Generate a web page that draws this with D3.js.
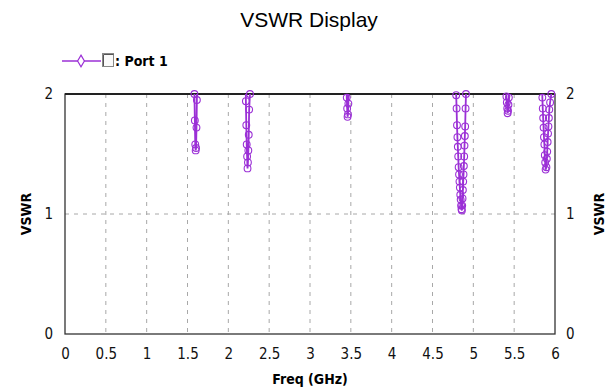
<!DOCTYPE html>
<html>
<head>
<meta charset="utf-8">
<script src="https://cdn.jsdelivr.net/npm/d3@7"></script>
<style>
  body { margin: 0; background: #fff; }
  text { font-family: "DejaVu Sans", sans-serif; font-stretch: condensed; }
</style>
</head>
<body>
<div id="chart"></div>
<script>
// Freq sweep (GHz) and VSWR; values of 2.5 sit above the plot and get clipped
const freqGHz = [
  1.58, 1.585, 1.59, 1.595, 1.60, 1.605, 1.61, 1.615, 1.62,
  2.21, 2.215, 2.22, 2.225, 2.23, 2.235, 2.24, 2.245, 2.25, 2.255, 2.265, 2.27,
  3.445, 3.45, 3.455, 3.46, 3.465, 3.47, 3.475,
  4.785, 4.79, 4.795, 4.80, 4.805, 4.81, 4.815, 4.82, 4.825, 4.83, 4.835, 4.84, 4.845, 4.85, 4.855,
  4.86, 4.864, 4.868, 4.872, 4.876, 4.88, 4.884, 4.888, 4.892, 4.896, 4.90, 4.905, 4.91,
  5.40, 5.405, 5.41, 5.415, 5.42, 5.425, 5.43, 5.435, 5.44,
  5.84, 5.845, 5.85, 5.855, 5.86, 5.865, 5.87, 5.875, 5.88, 5.885,
  5.895, 5.90, 5.905, 5.91, 5.915, 5.92, 5.925, 5.93, 5.94, 5.955, 5.96
];
const vswr = [
  2.5, 2.00, 1.78, 1.58, 1.53, 1.55, 1.72, 1.95, 2.5,
  2.5, 1.94, 1.74, 1.58, 1.48, 1.38, 1.43, 1.53, 1.66, 1.87, 2.00, 2.5,
  2.5, 1.97, 1.88, 1.81, 1.83, 1.92, 2.5,
  2.5, 1.99, 1.88, 1.74, 1.64, 1.56, 1.48, 1.39, 1.33, 1.27, 1.22, 1.16, 1.12, 1.07, 1.04,
  1.03, 1.07, 1.13, 1.20, 1.27, 1.33, 1.40, 1.48, 1.57, 1.65, 1.73, 1.88, 2.00,
  2.5, 1.98, 1.93, 1.88, 1.84, 1.86, 1.91, 1.97, 2.5,
  2.5, 1.97, 1.88, 1.80, 1.72, 1.64, 1.58, 1.49, 1.43, 1.37,
  1.39, 1.46, 1.52, 1.60, 1.67, 1.73, 1.80, 1.87, 1.93, 2.00, 2.5
];
const xTicks = [0, 0.5, 1, 1.5, 2, 2.5, 3, 3.5, 4, 4.5, 5, 5.5, 6];
const yTicks = [0, 1, 2];
const seriesName = ": Port 1";

const width = 613, height = 389;
const margin = { top: 94, right: 58, bottom: 55, left: 65 };
const purple = "#9b30d6";

const svg = d3.select("#chart").append("svg")
  .attr("width", width)
  .attr("height", height);

const x = d3.scaleLinear().domain([0, 6]).range([margin.left, width - margin.right]);
const y = d3.scaleLinear().domain([0, 2]).range([height - margin.bottom, margin.top]);

// title
svg.append("text")
  .attr("x", 309).attr("y", 27)
  .attr("text-anchor", "middle")
  .attr("font-size", 21)
  .style("font-family", "Liberation Sans, Arial, sans-serif")
  .style("font-stretch", "normal")
  .text("VSWR Display");

// grid
const grid = svg.append("g").attr("stroke", "#a8a8a8").attr("stroke-dasharray", "4,5");
grid.selectAll("line.v").data(xTicks.slice(1, -1)).join("line")
  .attr("class", "v")
  .attr("x1", d => x(d)).attr("x2", d => x(d))
  .attr("y1", y(2)).attr("y2", y(0));
grid.selectAll("line.h").data([1]).join("line")
  .attr("class", "h")
  .attr("x1", x(0)).attr("x2", x(6))
  .attr("y1", d => y(d)).attr("y2", d => y(d));

// frame
svg.append("rect")
  .attr("x", x(0)).attr("y", y(2))
  .attr("width", x(6) - x(0)).attr("height", y(0) - y(2))
  .attr("fill", "none").attr("stroke", "#333").attr("stroke-width", 1.3);
svg.append("line")
  .attr("x1", x(0)).attr("x2", x(6)).attr("y1", y(2)).attr("y2", y(2))
  .attr("stroke", "#222").attr("stroke-width", 2);

// axes labels
const xAxis = d3.axisBottom(x).tickValues(xTicks).tickSize(0).tickPadding(14)
  .tickFormat(d3.format("~g"));
const gx = svg.append("g").attr("transform", `translate(0,${y(0)})`).call(xAxis);
gx.select(".domain").remove();
gx.selectAll("text").attr("font-size", 15).attr("fill", "#111")
  .style("font-family", null);

const gyl = svg.append("g").attr("transform", `translate(${x(0)},0)`)
  .call(d3.axisLeft(y).tickValues(yTicks).tickSize(0).tickPadding(12).tickFormat(d3.format("d")));
gyl.select(".domain").remove();
gyl.selectAll("text").attr("font-size", 15).attr("fill", "#111").style("font-family", null);

const gyr = svg.append("g").attr("transform", `translate(${x(6)},0)`)
  .call(d3.axisRight(y).tickValues(yTicks).tickSize(0).tickPadding(11).tickFormat(d3.format("d")));
gyr.select(".domain").remove();
gyr.selectAll("text").attr("font-size", 15).attr("fill", "#111").style("font-family", null);

svg.append("text")
  .attr("x", 310).attr("y", 384)
  .attr("text-anchor", "middle").attr("font-size", 14).attr("font-weight", "bold")
  .text("Freq (GHz)");

svg.append("text")
  .attr("transform", `translate(31,${y(1)}) rotate(-90)`)
  .attr("text-anchor", "middle").attr("font-size", 14).attr("font-weight", "bold")
  .text("VSWR");
svg.append("text")
  .attr("transform", `translate(604,${y(1)}) rotate(-90)`)
  .attr("text-anchor", "middle").attr("font-size", 14).attr("font-weight", "bold")
  .text("VSWR");

// legend
const lg = svg.append("g");
lg.append("line").attr("x1", 62).attr("x2", 101).attr("y1", 61).attr("y2", 61)
  .attr("stroke", purple).attr("stroke-width", 1.5);
lg.append("path").attr("d", d3.symbol(d3.symbolDiamond, 40)())
  .attr("transform", "translate(81,61)")
  .attr("fill", "#fff").attr("stroke", purple).attr("stroke-width", 1.2);
lg.append("rect").attr("x", 102.5).attr("y", 53.5).attr("width", 11).attr("height", 13)
  .attr("fill", "#fafafa").attr("stroke", "#888");
lg.append("path").attr("d", "M103.5,66V54.5H113.5").attr("fill", "none").attr("stroke", "#555");
lg.append("text").attr("x", 115).attr("y", 66)
  .attr("font-size", 14).attr("font-weight", "bold").text(seriesName);

// data
const data = freqGHz.map((f, i) => ({ f, v: vswr[i] }));

svg.append("clipPath").attr("id", "plot-clip")
  .append("rect")
  .attr("x", x(0)).attr("y", y(2))
  .attr("width", x(6) - x(0)).attr("height", y(0) - y(2));

const line = d3.line().x(d => x(d.f)).y(d => y(d.v));
svg.append("path")
  .datum(data)
  .attr("clip-path", "url(#plot-clip)")
  .attr("fill", "none")
  .attr("stroke", purple)
  .attr("stroke-width", 1.8)
  .attr("d", line);

svg.append("g").selectAll("path.pt")
  .data(data.filter(d => d.v <= 2))
  .join("path")
  .attr("class", "pt")
  .attr("d", d3.symbol(d3.symbolCircle, 36))
  .attr("transform", d => `translate(${x(d.f)},${y(d.v)})`)
  .attr("fill", "none")
  .attr("stroke", purple)
  .attr("stroke-width", 1.1);
</script>
</body>
</html>
